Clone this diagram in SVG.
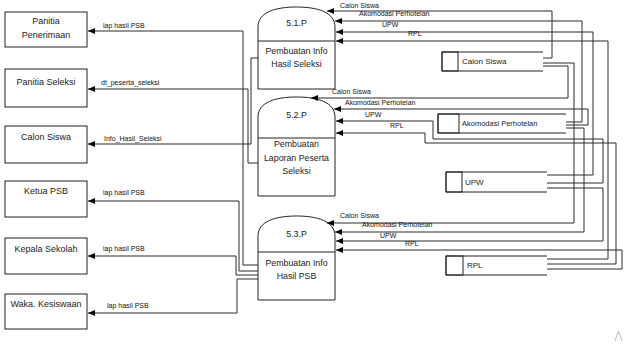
<svg xmlns="http://www.w3.org/2000/svg" width="624" height="344" viewBox="0 0 624 344">
<defs>
<marker id="ah" markerWidth="7" markerHeight="6" refX="7" refY="3" orient="auto" markerUnits="userSpaceOnUse">
<path d="M0,0 L7,3 L0,6 z" fill="#000"/>
</marker>
<style>
.box{fill:#fff;stroke:#222;stroke-width:1}
.proc{fill:#fff;stroke:#222;stroke-width:1}
.st{fill:none;stroke:#222;stroke-width:1}
.c{fill:none;stroke:#2a2a2a;stroke-width:1;marker-end:url(#ah)}
.t{font-family:"Liberation Sans",Arial,sans-serif;font-size:9px;fill:#222;text-anchor:middle}
.pt{font-family:"Liberation Sans",Arial,sans-serif;font-size:8.8px;fill:#222;text-anchor:middle}
.l{font-family:"Liberation Sans",Arial,sans-serif;font-size:7px;fill:#111}
.s{font-family:"Liberation Sans",Arial,sans-serif;font-size:8px;fill:#222}
</style>
</defs>
<rect width="624" height="344" fill="#fff"/>

<g id="panitia-penerimaan">
<rect class="box" x="5" y="12" width="82" height="35"/>
<text class="t" x="46" y="24">Panitia</text>
<text class="t" x="46" y="38">Penerimaan</text>
</g>
<g id="panitia-seleksi">
<rect class="box" x="5" y="69" width="82" height="38"/>
<text class="t" x="46" y="85">Panitia Seleksi</text>
</g>
<g id="calon-siswa-ent">
<rect class="box" x="5" y="126" width="82" height="37"/>
<text class="t" x="46" y="140">Calon Siswa</text>
</g>
<g id="ketua-psb">
<rect class="box" x="5" y="181" width="82" height="36"/>
<text class="t" x="46" y="194">Ketua PSB</text>
</g>
<g id="kepala-sekolah">
<rect class="box" x="5" y="238" width="82" height="36"/>
<text class="t" x="46" y="252">Kepala Sekolah</text>
</g>
<g id="waka-kesiswaan">
<rect class="box" x="5" y="294" width="82" height="35"/>
<text class="t" x="46" y="307">Waka. Kesiswaan</text>
</g>

<g id="p51">
<path class="proc" d="M258,89 V27 C258,12 276,7 296.5,7 C317,7 335,12 335,27 V89 Z"/>
<line class="st" x1="258" y1="41" x2="335" y2="41"/>
<text class="pt" x="296.5" y="26">5.1.P</text>
<text class="pt" x="296.5" y="54">Pembuatan Info</text>
<text class="pt" x="296.5" y="67">Hasil Seleksi</text>
</g>
<g id="p52">
<path class="proc" d="M258,196 V117 C258,102 276,97 296.5,97 C317,97 335,102 335,117 V196 Z"/>
<line class="st" x1="258" y1="138" x2="335" y2="138"/>
<text class="pt" x="296.5" y="118">5.2.P</text>
<text class="pt" x="296.5" y="147">Pembuatan</text>
<text class="pt" x="296.5" y="161">Laporan Peserta</text>
<text class="pt" x="296.5" y="174">Seleksi</text>
</g>
<g id="p53">
<path class="proc" d="M258,300 V236 C258,221 276,216 296.5,216 C317,216 335,221 335,236 V300 Z"/>
<line class="st" x1="258" y1="252" x2="335" y2="252"/>
<text class="pt" x="296.5" y="237">5.3.P</text>
<text class="pt" x="296.5" y="266">Pembuatan Info</text>
<text class="pt" x="296.5" y="279">Hasil PSB</text>
</g>

<g id="ds-calon-siswa">
<rect class="box" x="442" y="52" width="16" height="19"/>
<polyline class="st" points="543,52 442,52 442,71 543,71"/>
<text class="s" x="462" y="64">Calon Siswa</text>
</g>
<g id="ds-akomodasi">
<rect class="box" x="438" y="114" width="21" height="19"/>
<polyline class="st" points="566,114 438,114 438,133 566,133"/>
<text class="s" x="462" y="126" style="font-size:7.5px">Akomodasi Perhotelan</text>
</g>
<g id="ds-upw">
<rect class="box" x="446" y="172" width="16" height="20"/>
<polyline class="st" points="547,172 446,172 446,192 547,192"/>
<text class="s" x="465" y="185">UPW</text>
</g>
<g id="ds-rpl">
<rect class="box" x="446" y="256" width="17" height="19"/>
<polyline class="st" points="547,256 446,256 446,275 547,275"/>
<text class="s" x="467" y="268">RPL</text>
</g>

<g id="connectors">
<path class="c" d="M543,58 H552 V11 H327"/>
<path class="c" d="M566,122 H582 V21 H335"/>
<path class="c" d="M547,175 H593 V32 H336"/>
<path class="c" d="M547,259 H608 V41 H336"/>
<path class="c" d="M543,66 H568 V98 H311"/>
<path class="c" d="M566,125 H588 V109 H334"/>
<path class="c" d="M547,183 H603 V139 H433 V121 H336"/>
<path class="c" d="M547,264 H616 V143 H425 V133 H336"/>
<path class="c" d="M543,63 H574 V223 H327"/>
<path class="c" d="M566,128 H584 V232 H335"/>
<path class="c" d="M547,188 H603 V241 H336"/>
<path class="c" d="M547,269 H622 V250 H336"/>
<path class="c" d="M258,265 H243 V31 H88"/>
<path class="c" d="M258,163 H248 V89 H88"/>
<path class="c" d="M258,58 H251 V144 H88"/>
<path class="c" d="M258,271 H239 V201 H88"/>
<path class="c" d="M258,275 H236 V256 H88"/>
<path class="c" d="M258,279 H237 V313 H88"/>
</g>

<g id="labels">
<text class="l" x="103" y="28">lap hasil PSB</text>
<text class="l" x="101" y="85">dt_peserta_seleksi</text>
<text class="l" x="104" y="141">Info_Hasil_Seleksi</text>
<text class="l" x="103" y="195">lap hasil PSB</text>
<text class="l" x="103" y="251">lap hasil PSB</text>
<text class="l" x="107" y="308">lap hasil PSB</text>
<text class="l" x="340" y="8">Calon Siswa</text>
<text class="l" x="359" y="16">Akomodasi Perhotelan</text>
<text class="l" x="382" y="27">UPW</text>
<text class="l" x="408" y="36">RPL</text>
<text class="l" x="332" y="94">Calon Siswa</text>
<text class="l" x="345" y="105">Akomodasi Perhotelan</text>
<text class="l" x="365" y="117">UPW</text>
<text class="l" x="390" y="128">RPL</text>
<text class="l" x="340" y="218">Calon Siswa</text>
<text class="l" x="362" y="227">Akomodasi Perhotelan</text>
<text class="l" x="380" y="238">UPW</text>
<text class="l" x="405" y="246">RPL</text>
</g>
<polyline points="615,341 618.5,331 622,341" fill="none" stroke="#bbb" stroke-width="1"/>
</svg>
